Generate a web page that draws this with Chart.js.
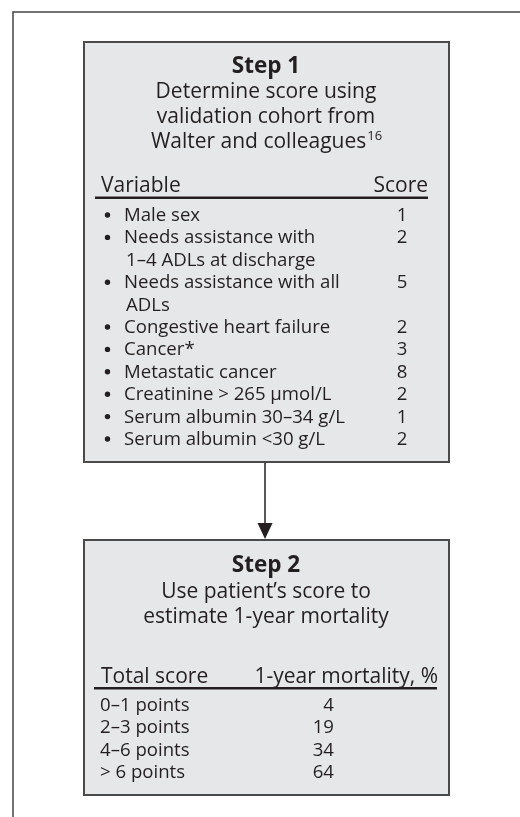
<!DOCTYPE html>
<html>
<head>
<meta charset="utf-8">
<script src="https://cdn.jsdelivr.net/npm/chart.js@4"></script>
<style>
  html, body { margin: 0; padding: 0; background: #fff; }
  #flow { display: block; }
</style>
</head>
<body>
<canvas id="flow" width="520" height="817"></canvas>
<script>
// Step 1: score table
const variables = [
    ['Male sex'],
    ['Needs assistance with', '1–4 ADLs at discharge'],
    ['Needs assistance with all', 'ADLs'],
    ['Congestive heart failure'],
    ['Cancer*'],
    ['Metastatic cancer'],
    ['Creatinine > 265 µmol/L'],
    ['Serum albumin 30–34 g/L'],
    ['Serum albumin <30 g/L']
];
const scores = [1, 2, 5, 2, 3, 8, 2, 1, 2];

// Step 2: mortality table
const scoreGroups = ['0–1 points', '2–3 points', '4–6 points', '> 6 points'];
const mortality = [4, 19, 34, 64];

const step1Title = ['Determine score using', 'validation cohort from', 'Walter and colleagues'];
const step2Title = ['Use patient’s score to', 'estimate 1-year mortality'];

const FONT = '"Open Sans", "Noto Sans", sans-serif';
const INK = '#231f20';
const BIG = 21, SMALL = 18.6, BOLD = 22.5;

const flowPlugin = {
    id: 'flow',
    beforeDraw(chart) {
        const ctx = chart.ctx;
        const sx = chart.scales.x, sy = chart.scales.y;
        const X = v => sx.getPixelForValue(v);
        const Y = v => sy.getPixelForValue(v);

        ctx.save();
        ctx.fillStyle = '#fff';
        ctx.fillRect(0, 0, chart.width, chart.height);

        // outer frame (open on right and bottom)
        ctx.strokeStyle = '#444';
        ctx.lineWidth = 1.5;
        ctx.beginPath();
        ctx.moveTo(X(13), Y(817));
        ctx.lineTo(X(13), Y(12));
        ctx.lineTo(X(520), Y(12));
        ctx.stroke();

        // boxes
        function box(x0, y0, x1, y1) {
            ctx.fillStyle = '#e6e7e8';
            ctx.fillRect(X(x0), Y(y0), X(x1) - X(x0), Y(y1) - Y(y0));
            ctx.strokeStyle = '#4a4a4a';
            ctx.lineWidth = 2;
            ctx.strokeRect(X(x0), Y(y0), X(x1) - X(x0), Y(y1) - Y(y0));
        }
        box(84, 42, 449, 462);
        box(84, 540, 449, 795);

        // arrow
        ctx.strokeStyle = '#231f20';
        ctx.lineWidth = 1.5;
        ctx.beginPath();
        ctx.moveTo(X(265), Y(463));
        ctx.lineTo(X(265), Y(525));
        ctx.stroke();
        ctx.fillStyle = '#231f20';
        ctx.beginPath();
        ctx.moveTo(X(257.5), Y(523));
        ctx.lineTo(X(272.5), Y(523));
        ctx.lineTo(X(265), Y(539));
        ctx.closePath();
        ctx.fill();

        function text(s, x, y, size, align, weight) {
            ctx.font = (weight || 'normal') + ' ' + size + 'px ' + FONT;
            ctx.textAlign = align || 'left';
            ctx.textBaseline = 'alphabetic';
            ctx.fillStyle = INK;
            ctx.fillText(s, X(x), Y(y));
            return ctx.measureText(s).width;
        }

        // Step 1
        text('Step 1', 266, 73, BOLD, 'center', 'bold');
        step1Title.forEach((s, i) => {
            const y = 98 + i * 25;
            if (i === step1Title.length - 1) {
                ctx.font = BIG + 'px ' + FONT;
                const w = ctx.measureText(s).width;
                ctx.font = '13px ' + FONT;
                const ws = ctx.measureText('16').width;
                const left = 266 - (w + ws) / 2;
                text(s, left, y, BIG, 'left');
                text('16', left + w + 1, y - 8, 13, 'left');
            } else {
                text(s, 266, y, BIG, 'center');
            }
        });
        text('Variable', 101, 192, BIG, 'left');
        text('Score', 428, 192, BIG, 'right');
        ctx.fillStyle = INK;
        ctx.fillRect(X(95), Y(196.5), X(428) - X(95), 2.5);

        let y = 221;
        variables.forEach((lines, i) => {
            ctx.beginPath();
            ctx.arc(X(107.5), Y(y - 6), 2.7, 0, Math.PI * 2);
            ctx.fillStyle = INK;
            ctx.fill();
            lines.forEach((s, j) => {
                text(s, j === 0 ? 124 : 126, y, SMALL, 'left');
                if (j === 0) text(String(scores[i]), 402, y, SMALL, 'center');
                y += 22.4;
            });
        });

        // Step 2
        text('Step 2', 266, 572, BOLD, 'center', 'bold');
        step2Title.forEach((s, i) => text(s, 266, 598 + i * 25, BIG, 'center'));
        text('Total score', 101, 683, BIG, 'left');
        text('1-year mortality, %', 438, 683, BIG, 'right');
        ctx.fillStyle = INK;
        ctx.fillRect(X(94), Y(687), X(437) - X(94), 2.5);
        scoreGroups.forEach((s, i) => {
            const ry = 711 + i * 22.4;
            text(s, 100, ry, SMALL, 'left');
            text(String(mortality[i]), 334, ry, SMALL, 'right');
        });
        ctx.restore();
    }
};

new Chart(document.getElementById('flow'), {
    type: 'scatter',
    data: { datasets: [] },
    options: {
        responsive: false,
        animation: false,
        devicePixelRatio: 1,
        layout: { padding: 0 },
        plugins: { legend: { display: false }, tooltip: { enabled: false } },
        scales: {
            x: { type: 'linear', min: 0, max: 520, display: false },
            y: { type: 'linear', min: 0, max: 817, reverse: true, display: false }
        }
    },
    plugins: [flowPlugin]
});
</script>
</body>
</html>
